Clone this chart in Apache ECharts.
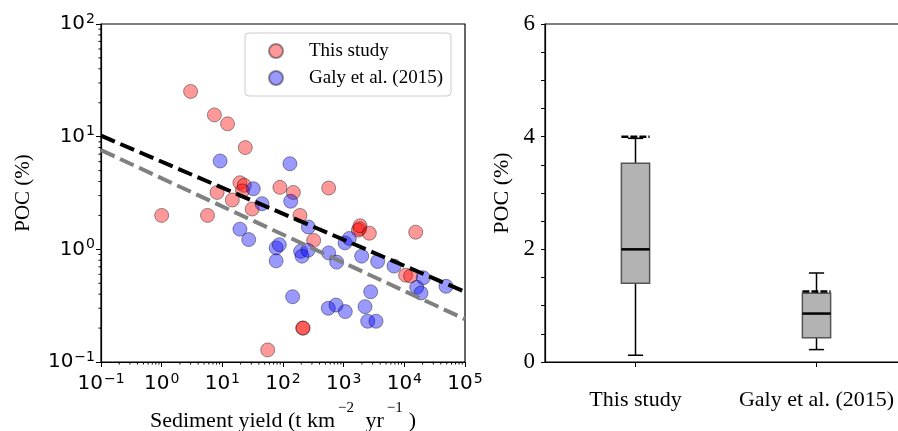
<!DOCTYPE html>
<html>
<head>
<meta charset="utf-8">
<script src="https://cdn.jsdelivr.net/npm/echarts@6/dist/echarts.min.js"></script>
<style>
  html, body { margin: 0; padding: 0; background: #ffffff; }
  #chart { width: 898px; height: 431px; }
</style>
</head>
<body>
<div id="chart"></div>
<script>
// ---- Scatter: sediment yield (t km-2 yr-1) vs POC (%) ----
const thisStudyYield = [3.0, 7.4, 12.2, 23.9, 1.0, 5.7, 8.2, 14.6, 19.5, 23, 21.4, 31,
  89, 148, 190, 566, 320, 1840, 1750, 1860, 2650, 15400, 10500, 12700, 211, 215, 56];
const thisStudyPOC = [25.2, 15.6, 13.0, 8.0, 2.0, 2.0, 3.2, 2.74, 3.9, 3.7, 3.3, 2.28,
  3.55, 3.2, 2.0, 3.5, 1.2, 1.53, 1.48, 1.62, 1.39, 1.42, 0.59, 0.58, 0.20, 0.20, 0.128];

const galyYield = [9.2, 32.4, 45, 19.5, 27.2, 77, 87, 77, 130, 134, 262, 195, 206, 258,
  144, 566, 768, 1052, 1240, 1980, 3630, 6760, 20500, 16000, 18800, 48600, 2790, 2250,
  2490, 3410, 558, 748, 1064];
const galyPOC = [6.08, 3.45, 2.54, 1.51, 1.22, 1.03, 1.10, 0.79, 5.75, 2.67, 1.58, 0.96,
  0.87, 0.98, 0.38, 0.93, 0.77, 1.14, 1.25, 0.87, 0.78, 0.71, 0.56, 0.46, 0.41, 0.47,
  0.42, 0.31, 0.23, 0.23, 0.30, 0.32, 0.28];

// Power-law fits, evaluated at the ends of the yield axis
const fitYield = [0.1, 1e5];
const fitAllPOC = [10.2, 0.42];
const fitGalyPOC = [7.6, 0.24];

// ---- Box plot summary (POC %) ----
const boxCategories = ['This study', 'Galy et al. (2015)'];
const boxMin = [0.12, 0.22];
const boxQ1 = [1.40, 0.43];
const boxMedian = [2.0, 0.86];
const boxQ3 = [3.53, 1.22];
const boxMax = [3.97, 1.58];
const boxMean = [4.0, 1.25];

// ---- Axis ranges and ticks ----
const yieldRange = [0.1, 1e5];
const pocLogRange = [0.1, 100];
const boxPocTicks = [0, 2, 4, 6];

const serif = 'Liberation Serif';
const sans = 'DejaVu Sans';

// minor ticks of the log axes (2..9 within every decade)
function minorTicks(lo, hi) {
  const out = [];
  for (let e = Math.round(Math.log10(lo)); e < Math.round(Math.log10(hi)); e++) {
    for (let m = 2; m < 10; m++) out.push(m * Math.pow(10, e));
  }
  return out;
}
const minorYield = minorTicks(yieldRange[0], yieldRange[1]);
const minorPoc = minorTicks(pocLogRange[0], pocLogRange[1]);

function powerLabel(v) {
  const e = Math.round(Math.log10(v));
  return '{b|10}{s|' + (e < 0 ? '\u2212' + (-e) : e) + '}';
}
const powerRich = {
  b: { fontFamily: sans, fontSize: 20, lineHeight: 24, color: '#000' },
  s: { fontFamily: sans, fontSize: 14, lineHeight: 14, verticalAlign: 'top', color: '#000', padding: [0, 0, 0, 1] }
};

const axisLineStyle = { color: '#000', width: 1.2 };

const chart = echarts.init(document.getElementById('chart'), null, { renderer: 'canvas' });

chart.setOption({
  backgroundColor: '#ffffff',
  animation: false,
  grid: [
    { left: 101, top: 24, width: 364, height: 338, outerBoundsMode: 'none', containLabel: false,
      show: true, borderColor: '#000', borderWidth: 1.2, backgroundColor: 'transparent' },
    { left: 545, top: 24, width: 362, height: 338, outerBoundsMode: 'none', containLabel: false,
      show: true, borderColor: '#000', borderWidth: 1.2, backgroundColor: 'transparent' }
  ],
  legend: {
    data: ['This study', 'Galy et al. (2015)'],
    orient: 'vertical',
    left: 245, top: 33,
    padding: [8, 8, 8, 23],
    itemGap: 7,
    itemWidth: 14, itemHeight: 14,
    icon: 'circle',
    backgroundColor: '#ffffff',
    borderColor: '#cccccc', borderWidth: 1, borderRadius: 4,
    textStyle: { fontFamily: serif, fontSize: 19, lineHeight: 20, color: '#000', padding: [0, 0, 0, 21] }
  },
  xAxis: [
    {
      type: 'log', logBase: 10, gridIndex: 0,
      min: yieldRange[0], max: yieldRange[1], splitNumber: 6,
      axisLine: { show: true, onZero: false, lineStyle: axisLineStyle },
      axisTick: { show: true, length: 5, lineStyle: { color: '#000', width: 1 } },
      splitLine: { show: false },
      axisLabel: { margin: 10, formatter: powerLabel, rich: powerRich, color: '#000' },
      name: '{t|Sediment yield (t km}{s|\u22122}{t| yr}{s|\u22121}{t|)}',
      nameLocation: 'middle', nameGap: 39,
      nameTextStyle: {
        color: '#000',
        rich: {
          t: { fontFamily: serif, fontSize: 22, lineHeight: 40, color: '#000' },
          s: { fontFamily: serif, fontSize: 15, lineHeight: 15, verticalAlign: 'top', color: '#000', padding: [0, 6, 0, 3] }
        }
      }
    },
    {
      type: 'category', gridIndex: 1, data: boxCategories,
      axisLine: { show: true, onZero: false, lineStyle: axisLineStyle },
      axisTick: { show: true, alignWithLabel: true, length: 5, lineStyle: { color: '#000', width: 1 } },
      splitLine: { show: false },
      axisLabel: { interval: 0, hideOverlap: false, margin: 27, fontFamily: serif, fontSize: 22, color: '#000' }
    }
  ],
  yAxis: [
    {
      type: 'log', logBase: 10, gridIndex: 0,
      min: pocLogRange[0], max: pocLogRange[1], splitNumber: 3,
      axisLine: { show: true, onZero: false, lineStyle: axisLineStyle },
      axisTick: { show: true, length: 5, lineStyle: { color: '#000', width: 1 } },
      splitLine: { show: false },
      axisLabel: { margin: 6, formatter: powerLabel, rich: powerRich, color: '#000' },
      name: 'POC (%)', nameLocation: 'middle', nameGap: 67,
      nameTextStyle: { fontFamily: serif, fontSize: 21, color: '#000' }
    },
    {
      type: 'value', gridIndex: 1,
      min: boxPocTicks[0], max: boxPocTicks[boxPocTicks.length - 1], interval: boxPocTicks[1] - boxPocTicks[0],
      axisLine: { show: true, onZero: false, lineStyle: axisLineStyle },
      axisTick: { show: true, length: 4, lineStyle: { color: '#000', width: 1 } },
      minorTick: { show: true, splitNumber: 4, length: 4, lineStyle: { color: '#000', width: 1 } },
      splitLine: { show: false },
      minorSplitLine: { show: false },
      axisLabel: { margin: 10, fontFamily: serif, fontSize: 23, color: '#000' },
      name: 'POC (%)', nameLocation: 'middle', nameGap: 32,
      nameTextStyle: { fontFamily: serif, fontSize: 22, color: '#000' }
    }
  ],
  series: [
    {
      name: 'This study', type: 'scatter', xAxisIndex: 0, yAxisIndex: 0, z: 2,
      symbol: 'circle', symbolSize: 14,
      itemStyle: { color: 'rgba(255,0,0,0.5)', borderColor: 'rgba(0,0,0,0.5)', borderWidth: 1 },
      data: thisStudyYield.map((x, i) => [x, thisStudyPOC[i]])
    },
    {
      name: 'Galy et al. (2015)', type: 'scatter', xAxisIndex: 0, yAxisIndex: 0, z: 2,
      symbol: 'circle', symbolSize: 14,
      itemStyle: { color: 'rgba(0,0,255,0.5)', borderColor: 'rgba(0,0,0,0.5)', borderWidth: 1 },
      data: galyYield.map((x, i) => [x, galyPOC[i]])
    },
    {
      name: 'fit-all', type: 'line', xAxisIndex: 0, yAxisIndex: 0, z: 3,
      symbol: 'none', silent: true,
      lineStyle: { color: '#000000', width: 4, type: [15, 6] },
      data: fitYield.map((x, i) => [x, fitAllPOC[i]])
    },
    {
      name: 'fit-galy', type: 'line', xAxisIndex: 0, yAxisIndex: 0, z: 3,
      symbol: 'none', silent: true,
      lineStyle: { color: '#808080', width: 4, type: [15, 6] },
      data: fitYield.map((x, i) => [x, fitGalyPOC[i]])
    },
    {
      name: 'minor-x', type: 'custom', xAxisIndex: 0, yAxisIndex: 0, clip: false, silent: true,
      data: minorYield.map(v => [v, pocLogRange[0]]),
      renderItem: (params, api) => {
        const p = api.coord([api.value(0), api.value(1)]);
        return { type: 'line', shape: { x1: p[0], y1: p[1], x2: p[0], y2: p[1] + 2.5 }, style: { stroke: '#000', lineWidth: 1 } };
      }
    },
    {
      name: 'minor-y', type: 'custom', xAxisIndex: 0, yAxisIndex: 0, clip: false, silent: true,
      data: minorPoc.map(v => [yieldRange[0], v]),
      renderItem: (params, api) => {
        const p = api.coord([api.value(0), api.value(1)]);
        return { type: 'line', shape: { x1: p[0], y1: p[1], x2: p[0] - 2.5, y2: p[1] }, style: { stroke: '#000', lineWidth: 1 } };
      }
    },
    {
      name: 'box', type: 'custom', xAxisIndex: 1, yAxisIndex: 1, clip: false, silent: true,
      data: boxCategories.map((c, i) => [i, boxMin[i], boxQ1[i], boxMedian[i], boxQ3[i], boxMax[i], boxMean[i]]),
      encode: { x: 0, y: [1, 2, 3, 4, 5, 6] },
      renderItem: (params, api) => {
        const i = api.value(0);
        const band = api.size([1, 0])[0];
        const half = band * 0.078;
        const capHalf = band * 0.042;
        const cx = api.coord([i, 0])[0];
        const y = k => api.coord([i, api.value(k)])[1];
        const black = { stroke: '#000', lineWidth: 1.5 };
        return {
          type: 'group',
          children: [
            { type: 'line', shape: { x1: cx, y1: y(1), x2: cx, y2: y(2) }, style: black },
            { type: 'line', shape: { x1: cx, y1: y(4), x2: cx, y2: y(5) }, style: black },
            { type: 'line', shape: { x1: cx - capHalf, y1: y(1), x2: cx + capHalf, y2: y(1) }, style: black },
            { type: 'line', shape: { x1: cx - capHalf, y1: y(5), x2: cx + capHalf, y2: y(5) }, style: black },
            { type: 'rect', shape: { x: cx - half, y: y(4), width: 2 * half, height: y(2) - y(4) },
              style: { fill: '#b3b3b3', stroke: '#555555', lineWidth: 1.5 } },
            { type: 'line', shape: { x1: cx - half, y1: y(3), x2: cx + half, y2: y(3) }, style: { stroke: '#000', lineWidth: 2.5 } },
            { type: 'line', shape: { x1: cx - half, y1: y(6), x2: cx + half, y2: y(6) },
              style: { stroke: '#000', lineWidth: 2.5, lineDash: [7, 2] } }
          ]
        };
      }
    }
  ]
});
</script>
</body>
</html>
